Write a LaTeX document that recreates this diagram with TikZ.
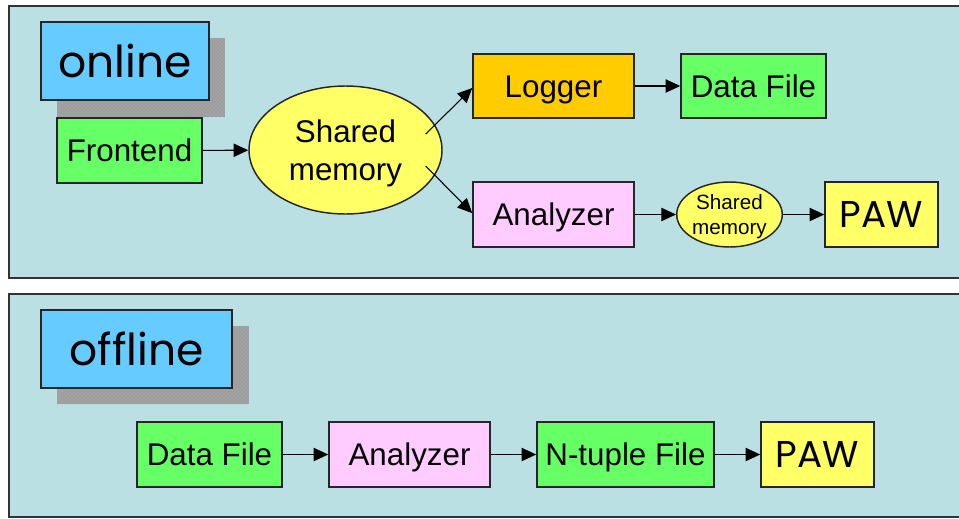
\documentclass[tikz,border=0pt]{standalone}
\usepackage{fontspec}
\setmainfont{Liberation Sans}
\newfontfamily\comicfont{Poppins}
\usetikzlibrary{arrows.meta,shapes.geometric,patterns}
\definecolor{panelbg}{RGB}{187,224,227}
\definecolor{labelblue}{RGB}{102,204,255}
\definecolor{boxgreen}{RGB}{102,255,102}
\definecolor{boxorange}{RGB}{255,204,0}
\definecolor{boxpink}{RGB}{255,204,255}
\definecolor{boxyellow}{RGB}{255,255,102}
\definecolor{shadowgray}{RGB}{158,158,158}
\tikzset{
  panel/.style={draw=black!80, line width=1.4pt, fill=panelbg},
  labelbox/.style={draw=black!85, line width=1pt, fill=labelblue, inner sep=0pt,
     text height=24.4pt, text depth=0pt,
     font=\comicfont\fontsize{33}{36}\selectfont},
  blockbox/.style={draw=black!85, line width=1.1pt, inner sep=0pt,
     text height=16.8pt, text depth=0pt,
     font=\fontsize{23.5}{27}\selectfont},
  pawbox/.style={blockbox, fill=boxyellow, font=\comicfont\fontsize{28}{32}\selectfont, text height=19.6pt},
  ellbox/.style={ellipse, draw=black!85, line width=1.1pt, fill=boxyellow, inner sep=0pt, text depth=0pt},
  conn/.style={draw=black, line width=0.8pt, -{Triangle[length=11pt,width=10pt]}}
}
\begin{document}
\begin{tikzpicture}[x=0.75pt,y=-0.75pt]
\useasboundingbox (0,0) rectangle (959,518);
\begin{scope}
\clip (0,0) rectangle (959,518);
\fill[white] (0,0) rectangle (959,518);
% panels
\draw[panel] (9,6) rectangle (975,278);
\draw[panel] (9,294) rectangle (975,517);
% shadows
\fill[shadowgray] (57,38) rectangle (225,117);
\fill[pattern=crosshatch dots, pattern color=black!30] (57,38) rectangle (225,117);
\fill[shadowgray] (57,326) rectangle (249,404);
\fill[pattern=crosshatch dots, pattern color=black!30] (57,326) rectangle (249,404);
\end{scope}
% labels
\node[labelbox, minimum width=126pt, minimum height=58.5pt] (online) at (125,61) {online};
\node[labelbox, minimum width=143.25pt, minimum height=58.5pt] (offline) at (136.5,349) {offline};
% online row
\node[blockbox, fill=boxgreen, minimum width=108.75pt, minimum height=48.75pt] (front) at (129.5,150.5) {Frontend};
\node[ellbox, minimum width=144.75pt, minimum height=96pt, align=center,
      font=\fontsize{23.5}{29}\selectfont] (shm) at (345.5,150) {Shared\\memory};
\node[blockbox, fill=boxorange, minimum width=120.75pt, minimum height=48pt] (logger) at (553.5,86) {Logger};
\node[blockbox, fill=boxgreen, minimum width=108.75pt, minimum height=48pt] (dfile) at (753.5,86) {Data File};
\node[blockbox, fill=boxpink, minimum width=120.75pt, minimum height=48.75pt] (ana) at (553.5,214.5) {Analyzer};
\node[ellbox, minimum width=71.25pt, minimum height=48.75pt, align=center,
      font=\fontsize{15.5}{18.5}\selectfont] (shms) at (729.5,214.5) {Shared\\memory};
\node[pawbox, minimum width=84.75pt, minimum height=48.75pt] (paw) at (881.5,214.5) {PAW};
% offline row
\node[blockbox, fill=boxgreen, minimum width=108.75pt, minimum height=48.75pt] (dfile2) at (209.5,454.5) {Data File};
\node[blockbox, fill=boxpink, minimum width=120.75pt, minimum height=48.75pt] (ana2) at (409.5,454.5) {Analyzer};
\node[blockbox, fill=boxgreen, minimum width=132.75pt, minimum height=48.75pt] (ntup) at (625.5,454.5) {N-tuple File};
\node[pawbox, minimum width=84.75pt, minimum height=48.75pt] (paw2) at (817.5,454.5) {PAW};
% connectors
\draw[conn] (front) -- (shm);
\draw[conn] ([shift={(-17,-16)}]shm.east) -- ([yshift=-1.5pt]logger.west);
\draw[conn] ([shift={(-17,16)}]shm.east) -- ([yshift=1pt]ana.west);
\draw[conn] (logger) -- (dfile);
\draw[conn] (ana) -- (shms);
\draw[conn] (shms) -- (paw);
\draw[conn] (dfile2) -- (ana2);
\draw[conn] (ana2) -- (ntup);
\draw[conn] (ntup) -- (paw2);
\end{tikzpicture}
\end{document}
